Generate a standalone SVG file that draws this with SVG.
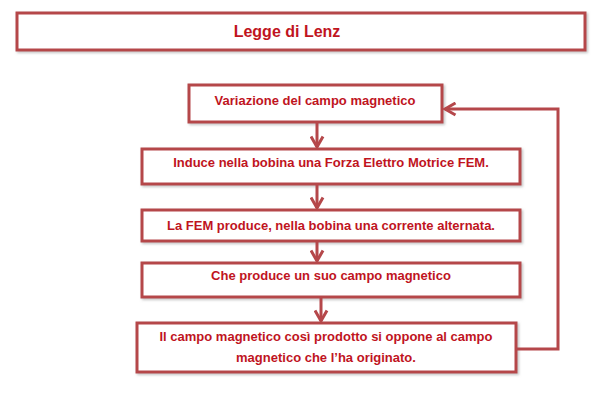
<svg xmlns="http://www.w3.org/2000/svg" width="615" height="402" viewBox="0 0 615 402">
<defs>
<marker id="ah" viewBox="0 0 10 10" refX="8" refY="5" markerWidth="5" markerHeight="5" orient="auto"><path d="M1,1 L8,5 L1,9" fill="none" stroke="#b5474a" stroke-width="2"/></marker>
<filter id="sh" x="-5%" y="-20%" width="110%" height="140%"><feDropShadow dx="1.5" dy="1.5" stdDeviation="1" flood-color="#888" flood-opacity="0.5"/></filter>
</defs>
<style>
rect{fill:#fff;stroke:#b5474a;stroke-width:3;filter:url(#sh)}
text{font-family:"Liberation Sans",Arial,sans-serif;font-weight:bold;font-size:13px;fill:#c0141e;text-anchor:middle}
.c{fill:none;stroke:#b5474a;stroke-width:3}
</style>
<rect width="615" height="402" fill="#fff" style="stroke:none;filter:none"/>
<g id="title"><rect x="17" y="13" width="568" height="37"/><text x="287" y="37" style="font-size:16px">Legge di Lenz</text></g>
<g id="n1"><rect x="189" y="85" width="253" height="37"/><text x="315" y="105">Variazione del campo magnetico</text></g>
<g id="n2"><rect x="142" y="149" width="378" height="35"/><text x="331" y="167">Induce nella bobina una Forza Elettro Motrice FEM.</text></g>
<g id="n3"><rect x="142" y="210" width="378" height="31"/><text x="331" y="230">La FEM produce, nella bobina una corrente alternata.</text></g>
<g id="n4"><rect x="142" y="263" width="378" height="34"/><text x="331" y="280">Che produce un suo campo magnetico</text></g>
<g id="n5"><rect x="137" y="323" width="379" height="49"/><text x="326" y="341">Il campo magnetico così prodotto si oppone al campo</text><text x="326" y="362">magnetico che l’ha originato.</text></g>
<g id="connectors">
<path class="c" d="M317,122 V147" marker-end="url(#ah)"/>
<path class="c" d="M317,184 V208" marker-end="url(#ah)"/>
<path class="c" d="M317,241 V261" marker-end="url(#ah)"/>
<path class="c" d="M321,297 V321" marker-end="url(#ah)"/>
<path class="c" d="M516,349 H558 V109 H445" marker-end="url(#ah)"/>
</g>
</svg>
